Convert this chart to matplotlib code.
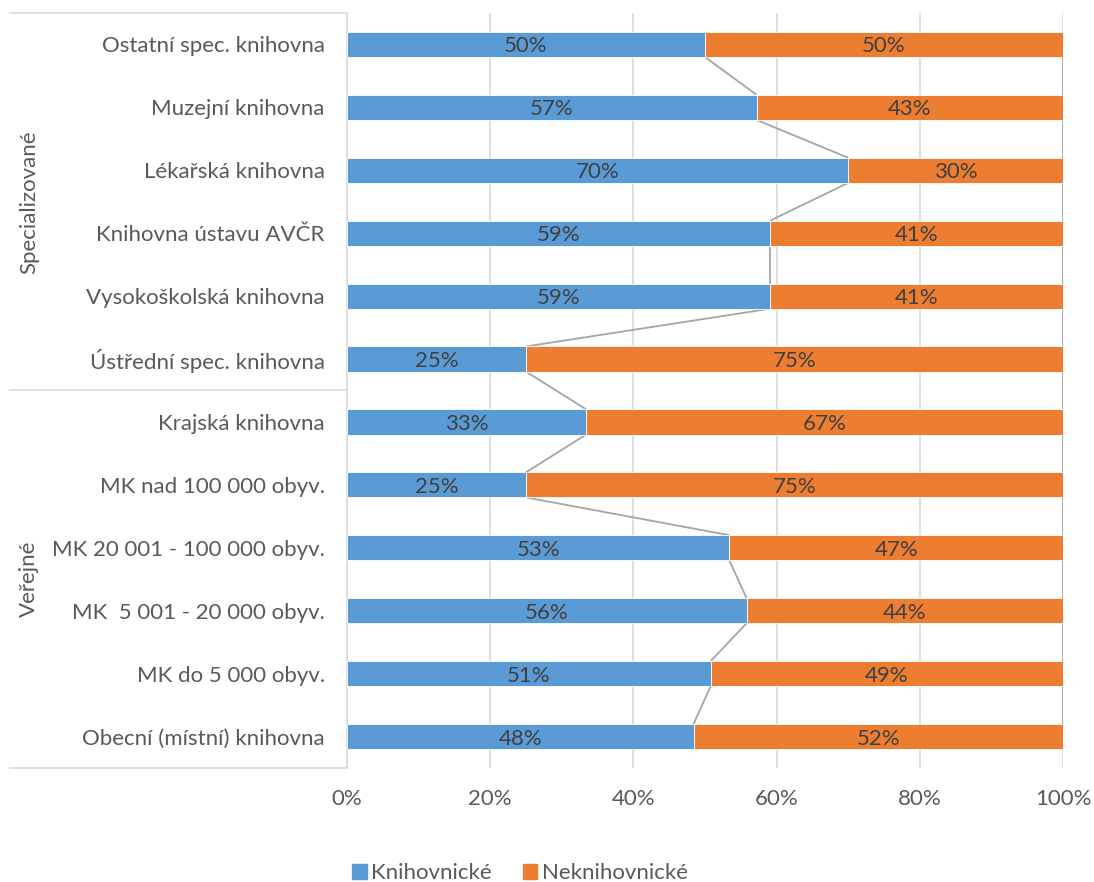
import numpy as np
import matplotlib
matplotlib.use("Agg")
import matplotlib.pyplot as plt
from matplotlib.lines import Line2D
from matplotlib.patches import Patch

plt.rcParams["font.family"] = ["Lato", "DejaVu Sans"]

categories = [
    "Ostatní spec. knihovna",
    "Muzejní knihovna",
    "Lékařská knihovna",
    "Knihovna ústavu AVČR",
    "Vysokoškolská knihovna",
    "Ústřední spec. knihovna",
    "Krajská knihovna",
    "MK nad 100 000 obyv.",
    "MK 20 001 - 100 000 obyv.",
    "MK  5 001 - 20 000 obyv.",
    "MK do 5 000 obyv.",
    "Obecní (místní) knihovna",
]
groups = ["Specializované", "Veřejné"]
group_sizes = [6, 6]

knihovnicke = [50.0, 57.2, 70.0, 59.1, 59.1, 25.0, 33.4, 25.0, 53.4, 55.8, 50.8, 48.4]
neknihovnicke = [100 - v for v in knihovnicke]
series_names = ["Knihovnické", "Neknihovnické"]
colors = ["#5B9BD5", "#ED7D31"]

FS = 16
W, H = 1094, 882
fig = plt.figure(figsize=(W / 100, H / 100), dpi=100)
ax = fig.add_axes([347 / W, 1 - 768 / H, (1063 - 347) / W, (768 - 13) / H])

n = len(categories)
y = np.arange(n)
bh = 0.4
a = np.array(knihovnicke) / 100
b = np.array(neknihovnicke) / 100

ax.barh(y, a, height=bh, color=colors[0], edgecolor="white", linewidth=0.6, zorder=3)
ax.barh(y, b, left=a, height=bh, color=colors[1], edgecolor="white", linewidth=0.6, zorder=3)

# series lines between bar ends
for ends in (a, a + b):
    for i in range(n - 1):
        ax.plot([ends[i], ends[i + 1]], [y[i] + bh / 2, y[i + 1] - bh / 2],
                color="#A5A5A5", lw=1.3, zorder=2, solid_capstyle="butt")

# data labels
for i in range(n):
    ax.text(a[i] / 2, y[i], f"{round(knihovnicke[i])}%", ha="center", va="center_baseline",
            fontsize=FS, color="#404040", zorder=4)
    ax.text(a[i] + b[i] / 2, y[i], f"{round(neknihovnicke[i])}%", ha="center",
            va="center_baseline", fontsize=FS, color="#404040", zorder=4)

ax.set_xlim(0, 1)
ax.set_ylim(n - 0.5, -0.5)
ax.set_xticks(np.linspace(0, 1, 6))
ax.set_xticklabels([f"{int(t)}%" for t in np.linspace(0, 100, 6)])
ax.tick_params(axis="x", length=0, pad=15, labelsize=FS, labelcolor="#595959")
ax.set_yticks(y)
ax.set_yticklabels(categories)
ax.tick_params(axis="y", length=0, pad=16, labelsize=FS, labelcolor="#595959")
ax.xaxis.grid(True, color="#D9D9D9", lw=1.2, zorder=0)
for s in ["top", "right", "bottom"]:
    ax.spines[s].set_visible(False)
ax.spines["left"].set_color("#D9D9D9")
ax.spines["left"].set_linewidth(1.2)

# group lines and labels (category axis grouping)
x0 = 10 / W
x1 = 347 / W
bounds = [0]
for g in group_sizes:
    bounds.append(bounds[-1] + g)
for k in bounds:
    yk = 1 - (13 + k * (768 - 13) / n) / H
    fig.add_artist(Line2D([x0, x1], [yk, yk], transform=fig.transFigure,
                          color="#D9D9D9", lw=1.2))
for gi, name in enumerate(groups):
    mid = (bounds[gi] + bounds[gi + 1]) / 2
    ym = 1 - (13 + mid * (768 - 13) / n) / H
    fig.text(29 / W, ym, name, rotation=90, ha="center", va="center",
             fontsize=FS, color="#595959")

handles = [Patch(color=c, label=l) for c, l in zip(colors, series_names)]
fig.legend(handles=handles, loc="center", bbox_to_anchor=(520 / W, 1 - 873 / H), ncol=2,
           frameon=False, fontsize=FS, labelcolor="#595959", handlelength=0.65,
           handleheight=0.65, handletextpad=0.2, columnspacing=1.4)

fig.savefig("out.png", dpi=100)
